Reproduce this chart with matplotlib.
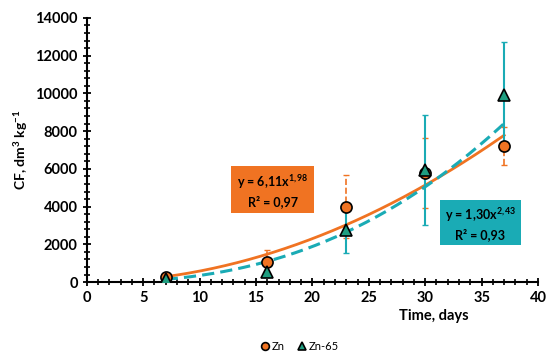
import numpy as np
import matplotlib.pyplot as plt
from matplotlib.ticker import MultipleLocator

# data
days = [7, 16, 23, 30, 37]
zn = [280, 1050, 4000, 5800, 7200]
zn_err = [150, 650, 1650, 1850, 1000]
zn65 = [150, 550, 2750, 5950, 9900]
zn65_err = [100, 300, 1200, 2900, 2800]

# power fit parameters as shown on chart
zn_fit = (6.11, 1.98)
zn65_fit = (1.30, 2.43)

orange = '#F07322'
teal = '#1AABB5'
green = '#1F9E80'

plt.rcParams['font.family'] = 'Lato'
plt.rcParams['mathtext.fontset'] = 'custom'
plt.rcParams['mathtext.rm'] = 'Lato:bold'
plt.rcParams['mathtext.it'] = 'Lato:bold'
plt.rcParams['mathtext.bf'] = 'Lato:bold'

fig = plt.figure(figsize=(5.49, 3.58), dpi=100)
ax = fig.add_axes([0.158, 0.212, 0.822, 0.738])

xf = np.linspace(days[0], days[-1], 200)
ax.plot(xf, zn_fit[0] * xf ** zn_fit[1], color=orange, lw=2, zorder=2)
ax.plot(xf, zn65_fit[0] * xf ** zn65_fit[1], color=teal, lw=2.2, ls=(0, (4, 2)), zorder=2)

eb = ax.errorbar(days, zn, yerr=zn_err, fmt='none', ecolor=orange, elinewidth=1.2,
                 capsize=2, zorder=3)
eb[2][0].set_linestyle('--')
ax.errorbar(days, zn65, yerr=zn65_err, fmt='none', ecolor=teal, elinewidth=1.5,
            capsize=2, zorder=3)
ax.plot(days, zn, 'o', ms=8, mfc=orange, mec='black', mew=1.2, label='Zn', zorder=4)
ax.plot(days, zn65, '^', ms=8, mfc=green, mec='black', mew=1.2, label='Zn-65', zorder=5)

ax.text(16.5, 4850, 'y = 6,11x$^{1,98}$\nR² = 0,97', ha='center', va='center',
        fontsize=9, fontweight='bold', linespacing=1.3,
        bbox=dict(boxstyle='square,pad=0.45', fc=orange, ec='none'))
ax.text(34.9, 3100, 'y = 1,30x$^{2,43}$\nR² = 0,93', ha='center', va='center',
        fontsize=9, fontweight='bold', linespacing=1.3,
        bbox=dict(boxstyle='square,pad=0.35', fc=teal, ec='none'))

ax.set_xlim(0, 40)
ax.set_ylim(0, 14000)
ax.xaxis.set_major_locator(MultipleLocator(5))
ax.xaxis.set_minor_locator(MultipleLocator(1))
ax.yaxis.set_major_locator(MultipleLocator(2000))
ax.yaxis.set_minor_locator(MultipleLocator(400))
ax.tick_params(which='major', direction='inout', length=6, width=1.3, labelsize=10.5)
ax.tick_params(which='minor', direction='inout', length=4, width=1.2)
for lab in ax.get_xticklabels() + ax.get_yticklabels():
    lab.set_fontweight('bold')
ax.spines['top'].set_visible(False)
ax.spines['right'].set_visible(False)
ax.spines['left'].set_linewidth(1.5)
ax.spines['bottom'].set_linewidth(1.5)

ax.set_xlabel('Time, days', fontsize=10.5, fontweight='bold')
ax.xaxis.set_label_coords(0.77, -0.10)
ax.set_ylabel('CF, dm$^3$ kg$^{-1}$', fontsize=10, fontweight='bold')

fig.legend(loc='lower center', bbox_to_anchor=(0.545, -0.01), ncol=2, frameon=False,
           fontsize=8, handletextpad=0.1, columnspacing=1.0, markerscale=0.7,
           handlelength=1)

fig.savefig('out.png', dpi=100)
